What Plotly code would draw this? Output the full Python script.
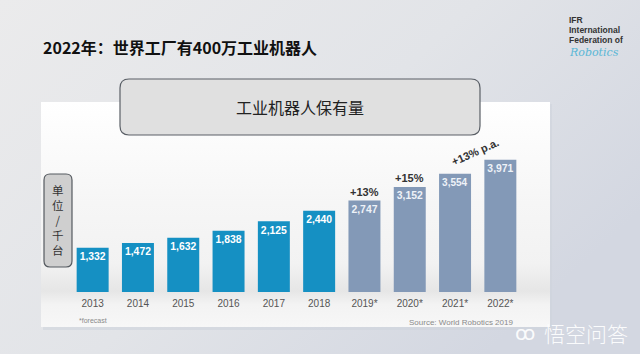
import base64
import plotly.graph_objects as go

# ---------------- data ----------------
years = ["2013", "2014", "2015", "2016", "2017", "2018", "2019*", "2020*", "2021*", "2022*"]
stock = [1332, 1472, 1632, 1838, 2125, 2440, 2747, 3152, 3554, 3971]
is_forecast = [False] * 6 + [True] * 4
growth_labels = {"2019*": "+13%", "2020*": "+15%"}
cagr_label = "+13% p.a."

title_text = "2022年：世界工厂有400万工业机器人"
box_title = "工业机器人保有量"
unit_chars = ["单", "位", "/", "千", "台"]

# ---------------- layout geometry ----------------
WIDTH, HEIGHT = 640, 354
L, R, T, B = 70, 117, 102, 62
PW, PH = WIDTH - L - R, HEIGHT - T - B
PPU = 0.0333  # pixels per unit (thousand)
YMAX = PH / PPU


def px(x):
    return (x - L) / PW


def py(y):
    return (HEIGHT - B - y) / PH


def rounded_rect(x0, y0, x1, y1, r):
    X0, X1 = px(x0), px(x1)
    Y0, Y1 = py(y0), py(y1)
    rx, ry = r / PW, r / PH
    return (f"M {X0+rx},{Y0} L {X1-rx},{Y0} Q {X1},{Y0} {X1},{Y0-ry} "
            f"L {X1},{Y1+ry} Q {X1},{Y1} {X1-rx},{Y1} L {X0+rx},{Y1} "
            f"Q {X0},{Y1} {X0},{Y1+ry} L {X0},{Y0-ry} Q {X0},{Y0} {X0+rx},{Y0} Z")


svg = f"""<svg xmlns='http://www.w3.org/2000/svg' width='{WIDTH}' height='{HEIGHT}'>
<defs>
<linearGradient id='bg' x1='0' y1='0' x2='1' y2='0.6'>
<stop offset='0' stop-color='#ebebec'/><stop offset='0.55' stop-color='#e2e4e8'/><stop offset='1' stop-color='#d3d7e1'/>
</linearGradient>
<linearGradient id='pn' x1='0' y1='0' x2='0' y2='1'>
<stop offset='0' stop-color='#ffffff'/><stop offset='0.45' stop-color='#f6f6f6'/>
<stop offset='0.72' stop-color='#f2f2f2'/><stop offset='0.84' stop-color='#e6e6e6'/>
<stop offset='0.9' stop-color='#f3f3f3'/><stop offset='1' stop-color='#f7f7f7'/>
</linearGradient>
</defs>
<rect width='{WIDTH}' height='{HEIGHT}' fill='url(#bg)'/>
<rect x='43' y='104' width='509' height='226' fill='#cfd3dc' opacity='0.6'/>
<rect x='41' y='102' width='509' height='225' fill='url(#pn)'/>
</svg>"""
svg_uri = "data:image/svg+xml;base64," + base64.b64encode(svg.encode()).decode()

BLUE = "#1590c3"
GREY_BLUE = "#8399b7"
colors = [GREY_BLUE if f else BLUE for f in is_forecast]
txt_colors = ["#eef2f8" if f else "#ffffff" for f in is_forecast]

fig = go.Figure()
fig.add_trace(go.Bar(
    x=years, y=stock,
    marker=dict(color=colors, line=dict(width=0)),
    text=[f"{v:,}" for v in stock],
    textposition="inside",
    insidetextanchor="end",
    textfont=dict(family="Liberation Sans, Arial", size=11, color=txt_colors, weight="bold"),
    textangle=0,
    cliponaxis=False,
    hoverinfo="skip",
))

annotations = []
for yr, lab in growth_labels.items():
    annotations.append(dict(
        x=yr, y=stock[years.index(yr)], xref="x", yref="y",
        text=lab, showarrow=False, yanchor="bottom", xanchor="center", yshift=1,
        font=dict(family="Liberation Sans, Arial", size=11, color="#333333", weight="bold"),
    ))
annotations.append(dict(
    x=px(475), y=py(152), xref="paper", yref="paper", text=cagr_label,
    showarrow=False, textangle=-24, xanchor="center", yanchor="middle",
    font=dict(family="Liberation Sans, Arial", size=11, color="#333333", weight="bold"),
))
# titles
annotations.append(dict(
    x=px(41), y=py(47), xref="paper", yref="paper", text=title_text,
    showarrow=False, xanchor="left", yanchor="middle",
    font=dict(family="Noto Sans CJK SC", size=16, color="#111111", weight="bold"),
))
annotations.append(dict(
    x=px(300), y=py(107), xref="paper", yref="paper", text=box_title,
    showarrow=False, xanchor="center", yanchor="middle",
    font=dict(family="Noto Sans CJK SC", size=16, color="#222222"),
))
annotations.append(dict(
    x=px(58), y=py(220), xref="paper", yref="paper", text="<br>".join(unit_chars),
    showarrow=False, xanchor="center", yanchor="middle", align="center",
    font=dict(family="Noto Sans CJK SC", size=11.5, color="#333333"),
))
# footnotes
annotations.append(dict(
    x=px(77), y=py(320), xref="paper", yref="paper", text="*forecast",
    showarrow=False, xanchor="left", yanchor="middle",
    font=dict(family="Liberation Sans, Arial", size=7, color="#8a8a8a"),
))
annotations.append(dict(
    x=px(515), y=py(322), xref="paper", yref="paper", text="Source: World Robotics 2019",
    showarrow=False, xanchor="right", yanchor="middle",
    font=dict(family="Liberation Sans, Arial", size=8, color="#8a8a8a"),
))
# IFR logo text
for txt, yy in [("IFR", 20), ("International", 30), ("Federation of", 40)]:
    annotations.append(dict(
        x=px(567), y=py(yy), xref="paper", yref="paper", text=txt,
        showarrow=False, xanchor="left", yanchor="middle",
        font=dict(family="Liberation Sans, Arial", size=8.5, color="#333333", weight="bold"),
    ))
annotations.append(dict(
    x=px(567), y=py(52), xref="paper", yref="paper", text="Robotics",
    showarrow=False, xanchor="left", yanchor="middle",
    font=dict(family="DejaVu Serif", size=11, color="#5ab7d6", style="italic"),
))
# watermark
annotations.append(dict(
    x=px(630), y=py(333), xref="paper", yref="paper", text="悟空问答",
    showarrow=False, xanchor="right", yanchor="middle",
    font=dict(family="Noto Sans CJK SC", size=21, color="rgba(255,255,255,0.92)", weight=300),
))
annotations.append(dict(
    x=px(525), y=py(333), xref="paper", yref="paper", text="ꝏ",
    showarrow=False, xanchor="center", yanchor="middle",
    font=dict(family="DejaVu Sans", size=20, color="rgba(255,255,255,0.92)"),
))

shapes = [
    dict(type="path", xref="paper", yref="paper", path=rounded_rect(120, 79, 480, 135, 9),
         fillcolor="#e0e0e0", line=dict(color="#5a5f66", width=1.2), layer="above"),
    dict(type="path", xref="paper", yref="paper", path=rounded_rect(44, 174, 72, 267, 6),
         fillcolor="#cfcfcf", line=dict(color="#555a60", width=1.2), layer="above"),
]

fig.update_layout(
    width=WIDTH, height=HEIGHT,
    margin=dict(l=L, r=R, t=T, b=B, pad=0),
    paper_bgcolor="#e6e7ea", plot_bgcolor="rgba(0,0,0,0)",
    bargap=0.294,
    showlegend=False,
    xaxis=dict(type="category", range=[-0.5, len(years) - 0.5], showgrid=False, zeroline=False,
               showline=False, ticks="", ticklabelstandoff=4,
               tickfont=dict(family="Liberation Sans, Arial", size=10, color="#555555")),
    yaxis=dict(range=[0, YMAX], visible=False),
    annotations=annotations,
    shapes=shapes,
    images=[dict(source=svg_uri, xref="paper", yref="paper", x=px(0), y=py(0),
                 sizex=WIDTH / PW, sizey=HEIGHT / PH, xanchor="left", yanchor="top",
                 sizing="stretch", layer="below")],
)

fig.write_html("out.html")
